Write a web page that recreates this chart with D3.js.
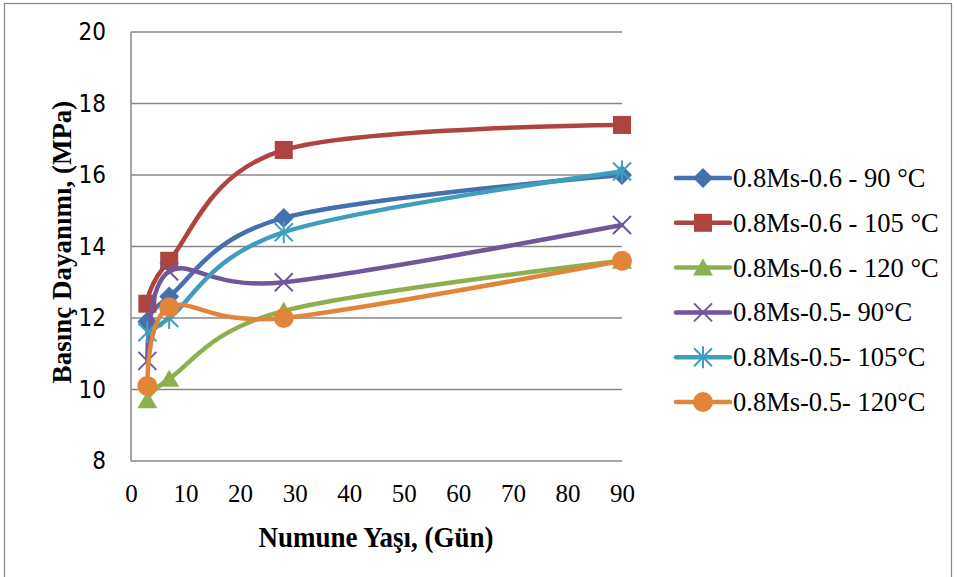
<!DOCTYPE html>
<html><head><meta charset="utf-8">
<script src="https://cdn.jsdelivr.net/npm/d3@7/dist/d3.min.js"></script>
<style>body{margin:0;background:#fff;}svg{display:block;}</style>
</head><body>
<svg id="c" width="957" height="577"></svg>
<script>
const days = [3, 7, 28, 90];
const seriesNames = ["0.8Ms-0.6 - 90 °C","0.8Ms-0.6 - 105 °C","0.8Ms-0.6 - 120 °C","0.8Ms-0.5- 90°C","0.8Ms-0.5- 105°C","0.8Ms-0.5- 120°C"];
const s1 = [11.9, 12.6, 14.8, 16.0];
const s2 = [12.4, 13.6, 16.7, 17.4];
const s3 = [9.7, 10.3, 12.2, 13.6];
const s4 = [10.8, 13.3, 13.0, 14.6];
const s5 = [11.6, 12.0, 14.4, 16.1];
const s6 = [10.1, 12.3, 12.0, 13.6];
const xTicks = [0,10,20,30,40,50,60,70,80,90];
const yTicks = [8,10,12,14,16,18,20];
const colors = ["#4471AE","#AE433F","#8DB04F","#71569A","#3E9EBB","#E2843A"];
const markers = ["diamond","square","triangle","x","star","circle"];
const allSeries = [s1,s2,s3,s4,s5,s6];
const serif = "'Liberation Serif','Times New Roman',serif";

const svg = d3.select("#c");
svg.append("rect").attr("x",4.5).attr("y",3.5).attr("width",947).attr("height",580)
  .attr("fill","none").attr("stroke","#8a8a8a").attr("stroke-width",1.3);

const x = d3.scaleLinear().domain([0,90]).range([131,622]);
const y = d3.scaleLinear().domain([8,20]).range([461,32]);

// gridlines
const g = svg.append("g");
g.selectAll("line.grid").data(yTicks).join("line")
  .attr("x1",x(0)).attr("x2",x(90)).attr("y1",d=>y(d)).attr("y2",d=>y(d))
  .attr("stroke","#878787").attr("stroke-width",1.5);
g.append("line").attr("x1",x(0)).attr("x2",x(0)).attr("y1",y(20)).attr("y2",y(8))
  .attr("stroke","#878787").attr("stroke-width",1.5);

const xAxis = svg.append("g").attr("transform",`translate(0,${y(8)})`)
  .call(d3.axisBottom(x).tickValues(xTicks).tickSize(0).tickPadding(23));
xAxis.select(".domain").remove();
xAxis.selectAll("text").attr("font-family",serif).attr("font-size",25).attr("fill","#000");
const yAxis = svg.append("g").attr("transform",`translate(${x(0)},0)`)
  .call(d3.axisLeft(y).tickValues(yTicks).tickSize(0).tickPadding(25));
yAxis.select(".domain").remove();
yAxis.selectAll("text").attr("font-family","'DejaVu Sans Condensed','Liberation Sans Narrow',sans-serif")
  .attr("font-size",24).attr("fill","#000");

svg.append("text").attr("transform","translate(376,547) scale(0.9,1)").attr("text-anchor","middle")
  .attr("font-family",serif).attr("font-weight","bold")
  .attr("font-size",30).text("Numune Yaşı, (Gün)");
svg.append("text").attr("transform","translate(71,242) rotate(-90)").attr("text-anchor","middle")
  .attr("font-family",serif).attr("font-weight","bold")
  .attr("font-size",27).text("Basınç Dayanımı, (MPa)");

function drawMarker(sel, type, color){
  if(type==="diamond") sel.append("path").attr("d","M0,-10L10,0L0,10L-10,0Z").attr("fill",color);
  else if(type==="square") sel.append("rect").attr("x",-9).attr("y",-9).attr("width",18).attr("height",18).attr("fill",color);
  else if(type==="triangle") sel.append("path").attr("d","M0,-9L10,8L-10,8Z").attr("fill",color);
  else if(type==="circle") sel.append("circle").attr("r",10).attr("fill",color);
  else if(type==="x") sel.append("path").attr("d","M-9,-9L9,9M-9,9L9,-9").attr("stroke",color).attr("stroke-width",2).attr("fill","none");
  else if(type==="star") sel.append("path").attr("d","M-9,-9L9,9M-9,9L9,-9M0,-11L0,11").attr("stroke",color).attr("stroke-width",2).attr("fill","none");
}

const line = d3.line().x(d=>x(d[0])).y(d=>y(d[1])).curve(d3.curveCardinal.tension(0));
allSeries.forEach((vals,i)=>{
  const pts = days.map((d,j)=>[d,vals[j]]);
  svg.append("path").attr("d",line(pts)).attr("fill","none").attr("stroke",colors[i])
    .attr("stroke-width",4.5).attr("stroke-linecap","round").attr("stroke-linejoin","round");
  pts.forEach(p=>{
    const m = svg.append("g").attr("transform",`translate(${x(p[0])},${y(p[1])})`);
    drawMarker(m, markers[i], colors[i]);
  });
});

// legend
const leg = svg.append("g");
seriesNames.forEach((name,i)=>{
  const ly = 178 + i*44.8;
  leg.append("line").attr("x1",676).attr("x2",730).attr("y1",ly).attr("y2",ly)
    .attr("stroke",colors[i]).attr("stroke-width",4.5).attr("stroke-linecap","round");
  const m = leg.append("g").attr("transform",`translate(703,${ly})`);
  drawMarker(m, markers[i], colors[i]);
  leg.append("text").attr("x",733).attr("y",ly+9).attr("font-family",serif)
    .attr("font-size",26.5).attr("fill","#000").text(name);
});
</script>
</body></html>
